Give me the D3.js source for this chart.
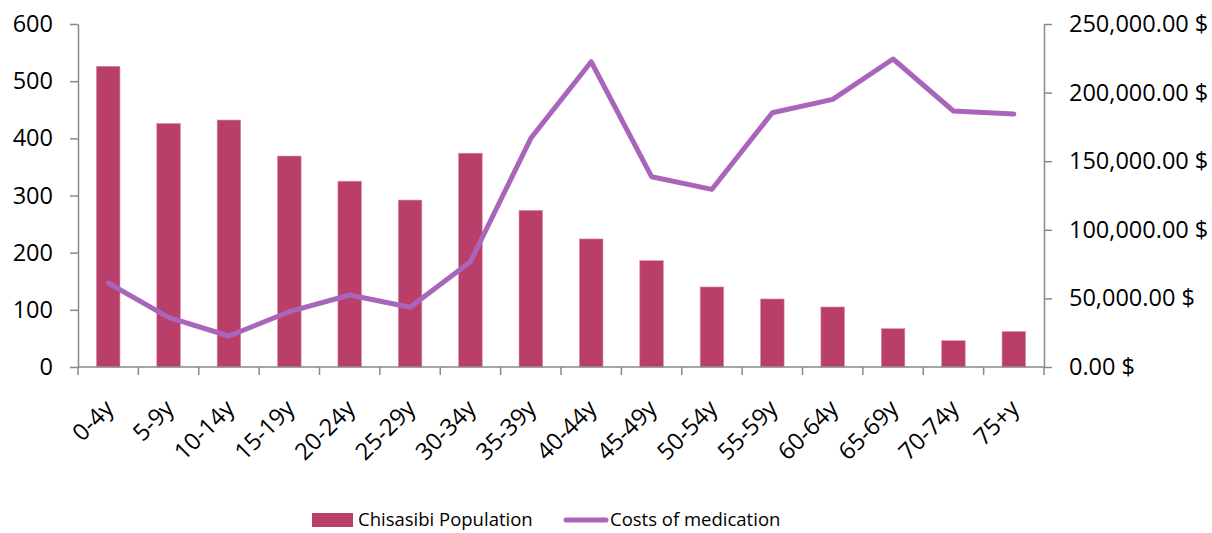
<!DOCTYPE html>
<html>
<head>
<meta charset="utf-8">
<script src="https://cdn.jsdelivr.net/npm/d3@7"></script>
<style>
  body { margin: 0; background: #fff; }
  text { font-family: "Open Sans", sans-serif; fill: #000; }
</style>
</head>
<body>
<div id="chart"></div>
<script>
// age groups
var ageGroups = ["0-4y", "5-9y", "10-14y", "15-19y", "20-24y", "25-29y", "30-34y", "35-39y",
  "40-44y", "45-49y", "50-54y", "55-59y", "60-64y", "65-69y", "70-74y", "75+y"];
// bars (left axis)
var population = [526, 426, 432, 369, 325, 292, 374, 274, 224, 186, 140, 119, 105, 67, 46, 62];
// line (right axis)
var medicationCost = [61200, 36200, 22600, 40300, 52500, 43500, 76700, 166700,
  222500, 138700, 129500, 185300, 195100, 224500, 186600, 184400];
var leftTicks = [0, 100, 200, 300, 400, 500, 600];
var rightTicks = [0, 50000, 100000, 150000, 200000, 250000];

var width = 1212, height = 533;
var margin = {top: 24, right: 168, bottom: 166, left: 78};
var innerW = width - margin.left - margin.right,
    innerH = height - margin.top - margin.bottom;

var barColor = "#B93E69", lineColor = "#A865BA", axisColor = "#898989";
var tickFont = "23.5px";

var svg = d3.select("#chart").append("svg")
    .attr("width", width)
    .attr("height", height);

var g = svg.append("g")
    .attr("transform", "translate(" + margin.left + "," + margin.top + ")");

var x = d3.scaleBand().domain(ageGroups).range([0, innerW]);
var yL = d3.scaleLinear().domain([0, 600]).range([innerH, 0]);
var yR = d3.scaleLinear().domain([0, 250000]).range([innerH, 0]);

var fmtMoney = d3.format(",.2f");

// bars
var barW = x.bandwidth() * 0.39;
g.selectAll("rect.bar")
    .data(population)
  .enter().append("rect")
    .attr("class", "bar")
    .attr("x", function(d, i) { return x(ageGroups[i]) + (x.bandwidth() - barW) / 2; })
    .attr("y", function(d) { return yL(d); })
    .attr("width", barW)
    .attr("height", function(d) { return innerH - yL(d); })
    .attr("fill", barColor)
    .attr("stroke", "#D98DA8")
    .attr("stroke-width", 0.6);

// line
var line = d3.line()
    .x(function(d, i) { return x(ageGroups[i]) + x.bandwidth() / 2; })
    .y(function(d) { return yR(d); });

g.append("path")
    .datum(medicationCost)
    .attr("d", line)
    .attr("fill", "none")
    .attr("stroke", lineColor)
    .attr("stroke-width", 5)
    .attr("stroke-linecap", "round")
    .attr("stroke-linejoin", "round");

// axes
function styleAxis(sel) {
  sel.selectAll("path.domain").attr("stroke", axisColor).attr("stroke-width", 1.5);
  sel.selectAll(".tick line").attr("stroke", axisColor).attr("stroke-width", 1.5);
  sel.selectAll("text").style("font-size", tickFont).style("font-family", "'Open Sans', sans-serif");
}

var axL = g.append("g")
    .call(d3.axisLeft(yL).tickValues(leftTicks).tickSize(8).tickSizeOuter(0).tickPadding(17));
styleAxis(axL);

var axR = g.append("g")
    .attr("transform", "translate(" + innerW + ",0)")
    .call(d3.axisRight(yR).tickValues(rightTicks).tickSize(8).tickSizeOuter(0).tickPadding(17)
      .tickFormat(function(d) { return fmtMoney(d) + " $"; }));
styleAxis(axR);

// x axis: ticks on band edges
var axB = g.append("g")
    .attr("transform", "translate(0," + innerH + ")");
axB.append("line")
    .attr("x1", 0).attr("x2", innerW)
    .attr("stroke", axisColor).attr("stroke-width", 1.5);
axB.selectAll("line.tk")
    .data(ageGroups.concat(["end"]))
  .enter().append("line")
    .attr("class", "tk")
    .attr("x1", function(d, i) { return i * x.step(); })
    .attr("x2", function(d, i) { return i * x.step(); })
    .attr("y1", 0).attr("y2", 8)
    .attr("stroke", axisColor).attr("stroke-width", 1.5);
axB.selectAll("text")
    .data(ageGroups)
  .enter().append("text")
    .attr("transform", function(d) {
      return "translate(" + (x(d) + x.bandwidth() / 2 + 1) + ",37) rotate(-45)";
    })
    .attr("text-anchor", "end")
    .attr("dy", "0.35em")
    .style("font-size", tickFont)
    .text(function(d) { return d; });

// legend
var leg = svg.append("g").attr("transform", "translate(312,520)");
leg.append("rect")
    .attr("x", 0).attr("y", -7).attr("width", 41).attr("height", 14)
    .attr("fill", barColor);
leg.append("text")
    .attr("x", 46).attr("dy", "0.35em")
    .style("font-size", "18.5px")
    .text("Chisasibi Population");
leg.append("line")
    .attr("x1", 254).attr("x2", 294)
    .attr("stroke", lineColor).attr("stroke-width", 5).attr("stroke-linecap", "round");
leg.append("text")
    .attr("x", 298).attr("dy", "0.35em")
    .style("font-size", "18.5px")
    .text("Costs of medication");
</script>
</body>
</html>
